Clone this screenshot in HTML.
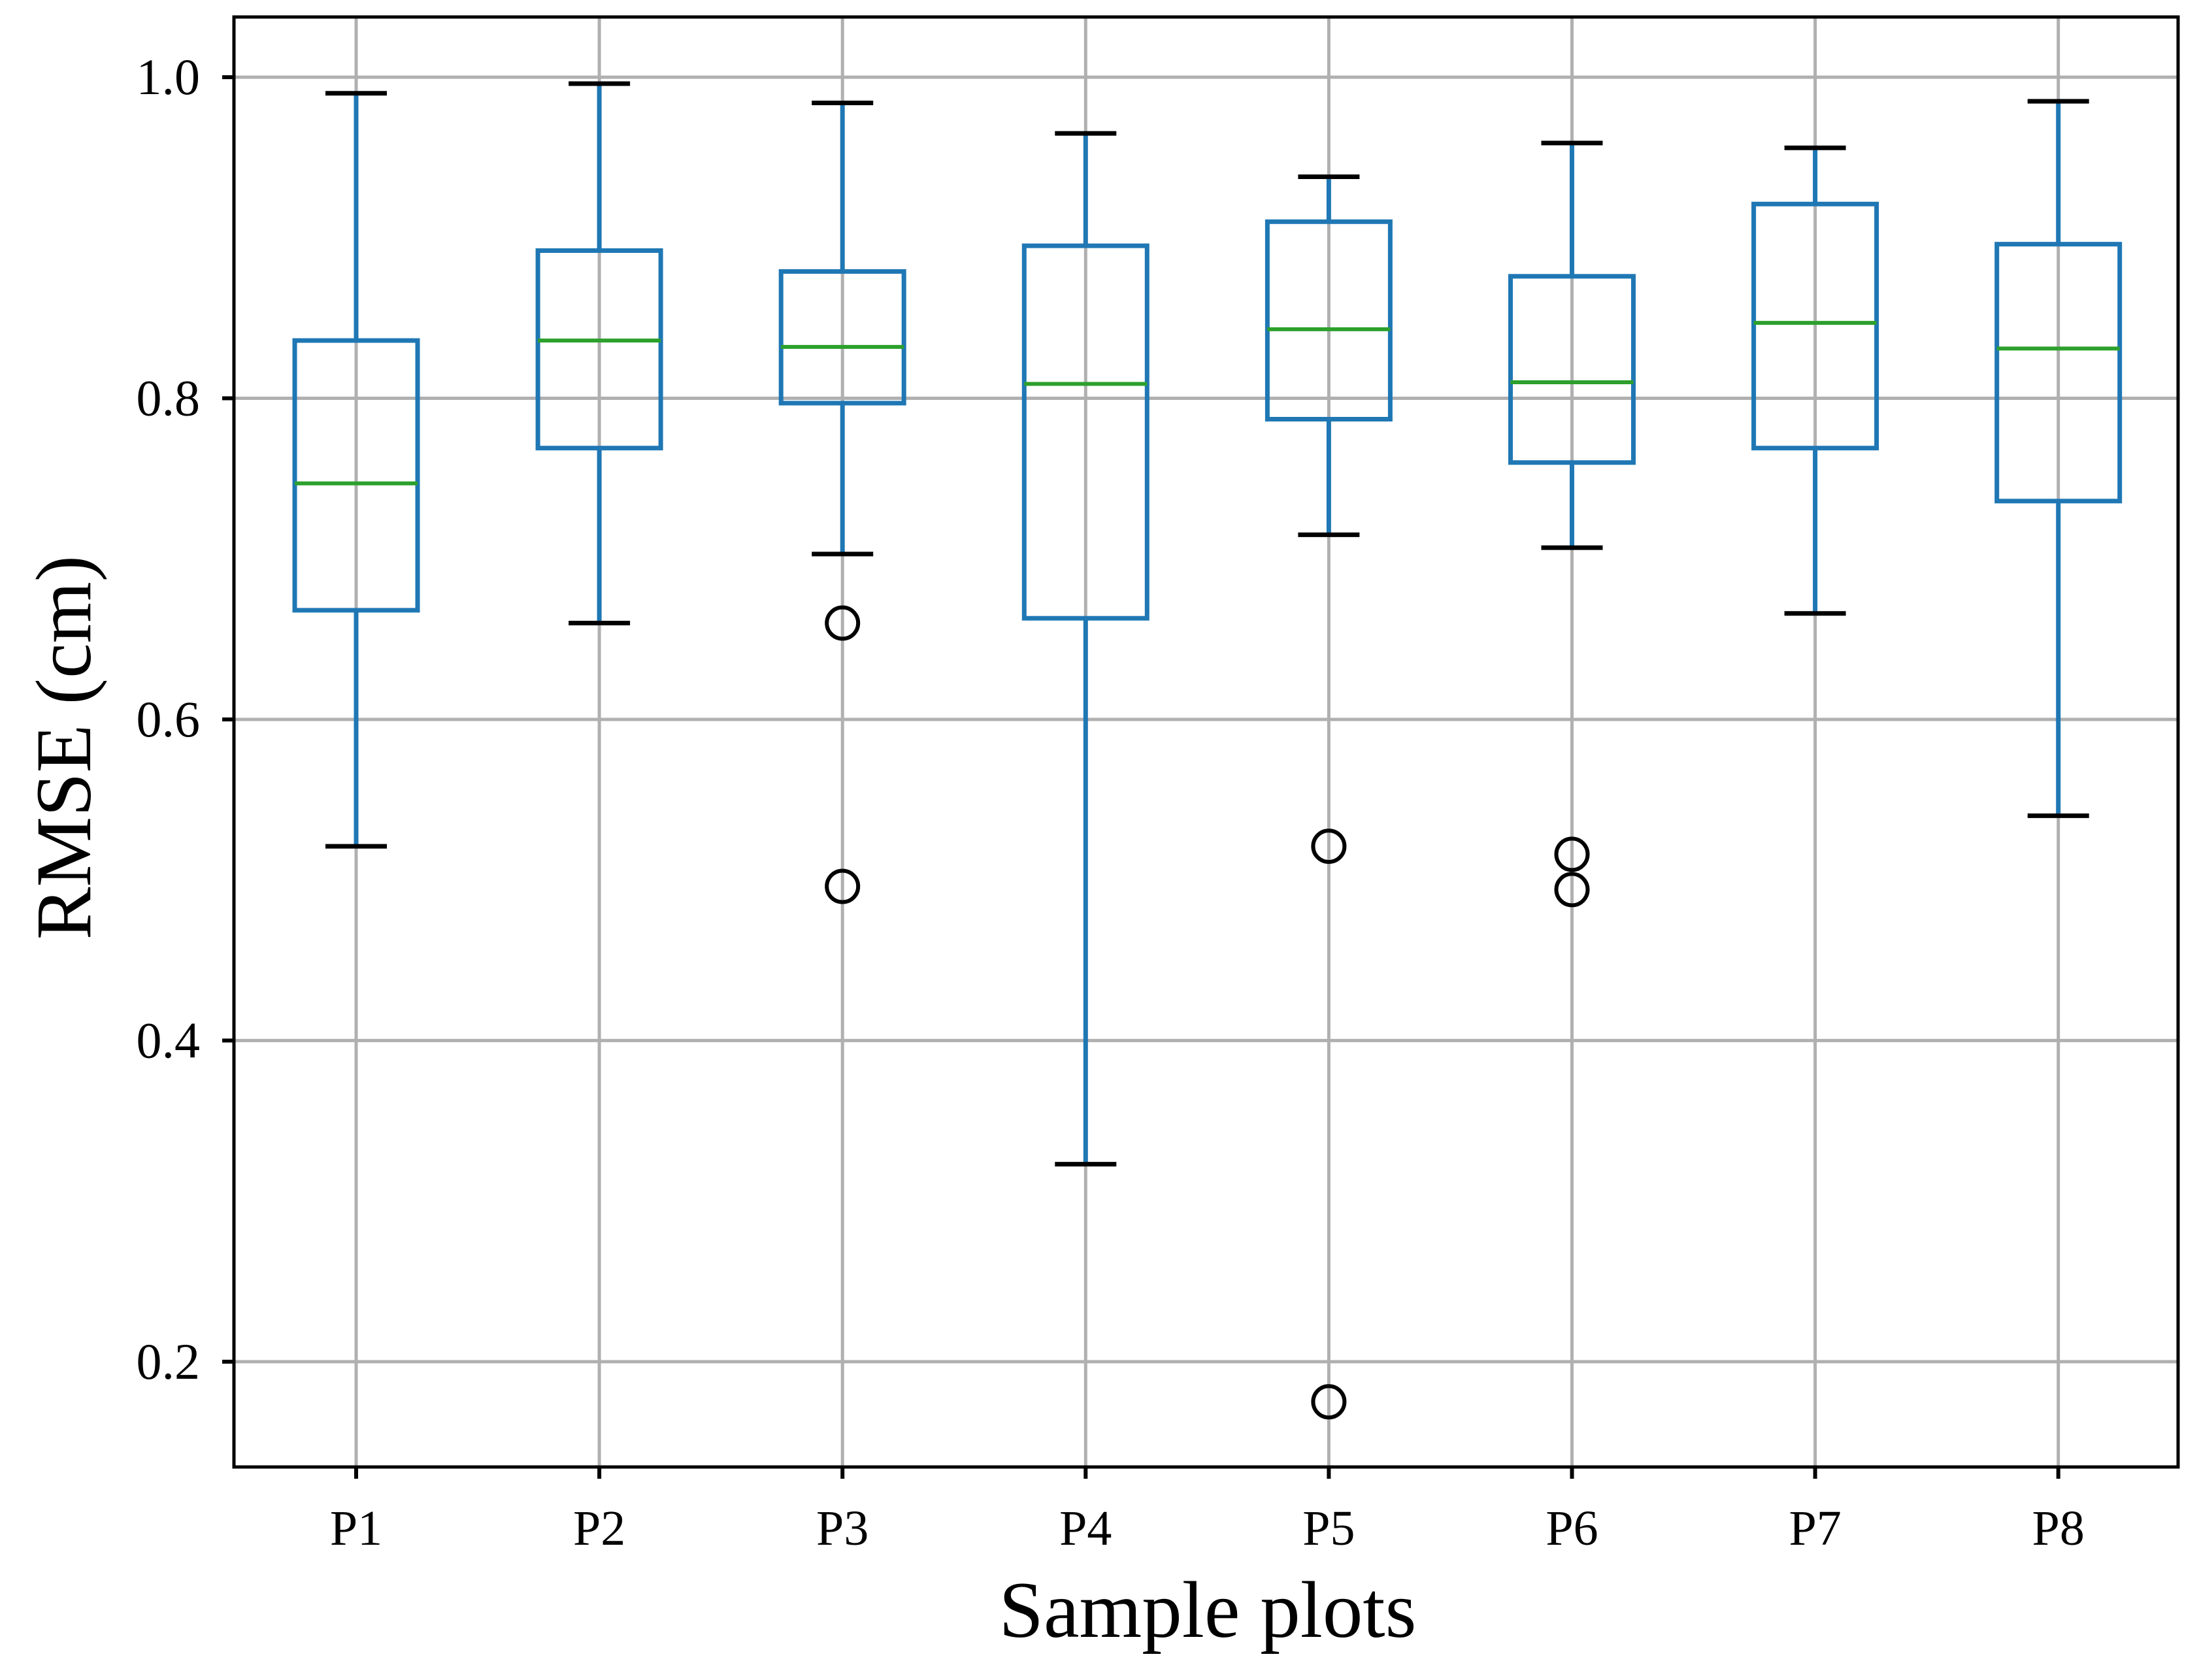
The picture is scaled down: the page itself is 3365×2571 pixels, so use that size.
<!DOCTYPE html>
<html><head><meta charset="utf-8"><style>
html,body{margin:0;padding:0;background:#fff;}
svg{display:block;font-family:"Liberation Serif",serif;}
</style></head><body>
<svg id="chart" width="3365" height="2571" viewBox="0 0 3365 2571" xmlns="http://www.w3.org/2000/svg">
<rect width="3365" height="2571" fill="#fff"/>
<g id="grid"></g>
<g id="boxes"></g>
<rect x="358" y="26" width="2975" height="2219" fill="none" stroke="#000" stroke-width="5"/>
<g id="ticks"></g>
<text x="1848" y="2505" font-size="123" text-anchor="middle">Sample plots</text>
<text transform="translate(138,1144) rotate(-90)" font-size="121" text-anchor="middle">RMSE (cm)</text>
</svg>
<script>
const categories = ["P1","P2","P3","P4","P5","P6","P7","P8"];
const whiskerHigh = [0.990,0.996,0.984,0.965,0.938,0.959,0.956,0.985];
const q3 = [0.836,0.892,0.879,0.895,0.910,0.876,0.921,0.896];
const medians = [0.747,0.836,0.832,0.809,0.843,0.810,0.847,0.831];
const q1 = [0.668,0.769,0.797,0.663,0.787,0.760,0.769,0.736];
const whiskerLow = [0.521,0.660,0.703,0.323,0.715,0.707,0.666,0.540];
const outliers = [[],[],[0.660,0.496],[],[0.521,0.175],[0.516,0.494],[],[]];
const yTicks = [0.2,0.4,0.6,0.8,1.0];
const yTickLabels = ["0.2","0.4","0.6","0.8","1.0"];

const NS = "http://www.w3.org/2000/svg";
const plotLeft=358, plotRight=3333, plotTop=26, plotBottom=2245;
const yMin=0.1344, yMax=1.0375;
function yScale(v){ return plotBottom - (v - yMin)/(yMax - yMin)*(plotBottom-plotTop); }
const x0=545, step=372.1;
function xScale(i){ return x0 + i*step; }
function mk(tag, attrs, parent){ const e=document.createElementNS(NS,tag); for(const k in attrs) e.setAttribute(k,attrs[k]); parent.appendChild(e); return e; }

const grid=document.getElementById('grid'), boxes=document.getElementById('boxes'), ticks=document.getElementById('ticks');
yTicks.forEach((t,i)=>{
  const g=mk('line',{x1:plotLeft,x2:plotRight,y1:yScale(t),y2:yScale(t),stroke:'#b0b0b0','stroke-width':5},grid);
  
  
  const tk=mk('line',{x1:plotLeft-18,x2:plotLeft,y1:yScale(t),y2:yScale(t),stroke:'#000','stroke-width':6},ticks);
  
  
  const lb=mk('text',{x:plotLeft-52,y:yScale(t)+26,'font-size':78,'text-anchor':'end'},ticks);
  lb.textContent=yTickLabels[i];
  
  
});
categories.forEach((c,i)=>{
  const cx=xScale(i);
  const g=mk('line',{x1:cx,x2:cx,y1:plotTop,y2:plotBottom,stroke:'#b0b0b0','stroke-width':5},grid);
  
  
  const tk=mk('line',{x1:cx,x2:cx,y1:plotBottom,y2:plotBottom+18,stroke:'#000','stroke-width':6},ticks);
  
  
  const lb=mk('text',{x:cx,y:2364,'font-size':76,'text-anchor':'middle'},ticks);
  lb.textContent=c;
  
  

  const grp=mk('g',{},boxes);
  
  
  const hw=94, cw=47, blue='#1f77b4';
  mk('line',{x1:cx,x2:cx,y1:yScale(q3[i]),y2:yScale(whiskerHigh[i]),stroke:blue,'stroke-width':7},grp);
  mk('line',{x1:cx,x2:cx,y1:yScale(q1[i]),y2:yScale(whiskerLow[i]),stroke:blue,'stroke-width':7},grp);
  mk('line',{x1:cx-cw,x2:cx+cw,y1:yScale(whiskerHigh[i]),y2:yScale(whiskerHigh[i]),stroke:'#000','stroke-width':7},grp);
  mk('line',{x1:cx-cw,x2:cx+cw,y1:yScale(whiskerLow[i]),y2:yScale(whiskerLow[i]),stroke:'#000','stroke-width':7},grp);
  mk('rect',{x:cx-hw,y:yScale(q3[i]),width:2*hw,height:yScale(q1[i])-yScale(q3[i]),fill:'none',stroke:blue,'stroke-width':7},grp);
  mk('line',{x1:cx-hw,x2:cx+hw,y1:yScale(medians[i]),y2:yScale(medians[i]),stroke:'#2ca02c','stroke-width':6},grp);
  outliers[i].forEach(o=>{
    const ci=mk('circle',{cx:cx,cy:yScale(o),r:24,fill:'none',stroke:'#000','stroke-width':6},grp);
    
    
  });
});
</script>
</body></html>
